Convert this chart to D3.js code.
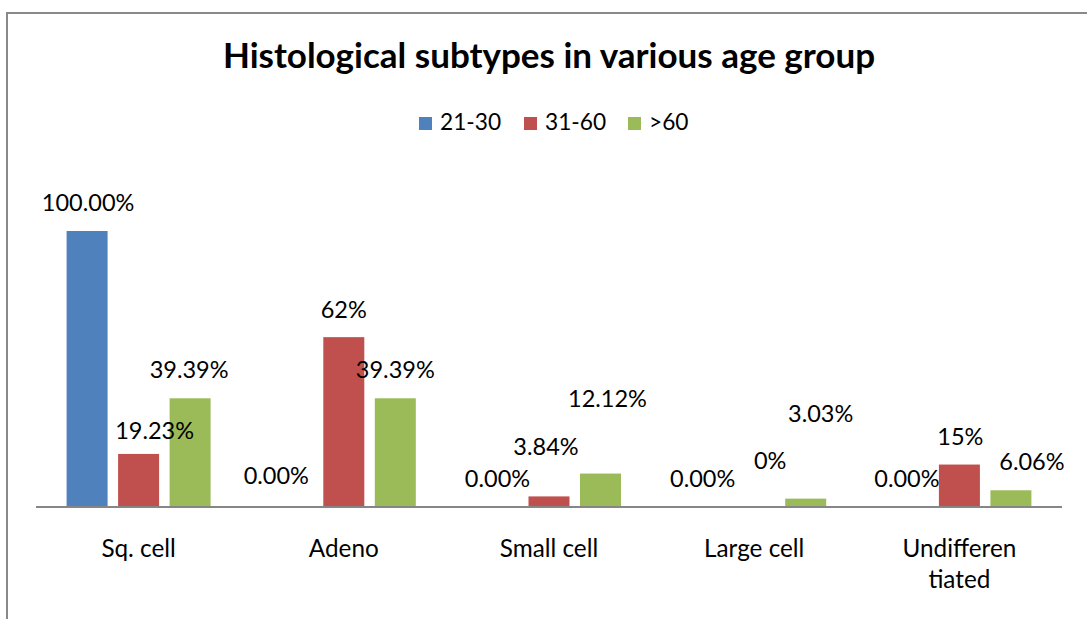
<!DOCTYPE html>
<html>
<head>
<meta charset="utf-8">
<script src="https://cdn.jsdelivr.net/npm/d3@7"></script>
<style>
  body { margin: 0; background: #fff; }
  text { font-family: Lato, "Open Sans", sans-serif; fill: #000; }
</style>
</head>
<body>
<svg id="chart" width="1087" height="619"></svg>
<script>
// data
const categories = ["Sq. cell", "Adeno", "Small cell", "Large cell", "Undifferen tiated"];
const seriesNames = ["21-30", "31-60", ">60"];
const age21_30 = [100, 0, 0, 0, 0];
const age31_60 = [19.23, 61.54, 3.84, 0, 15.38];
const age60plus = [39.39, 39.39, 12.12, 3.03, 6.06];
const labels21_30 = ["100.00%", "0.00%", "0.00%", "0.00%", "0.00%"];
const labels31_60 = ["19.23%", "62%", "3.84%", "0%", "15%"];
const labels60plus = ["39.39%", "39.39%", "12.12%", "3.03%", "6.06%"];

// manual label nudges (as in the original sheet): [dx, dy]
const nudge21_30 = [[1, 0], [-16, -3], [0, 0], [0, 0], [-1, 0]];
const nudge31_60 = [[16, 5], [0, 1], [-3, -21], [16, -18], [1, 0]];
const nudge60plus = [[-1, 0], [0, 0], [7, -47], [15, -57], [21, 0]];

const colors = ["#4F81BD", "#C0504D", "#9BBB59"];

const svg = d3.select("#chart");
const W = +svg.attr("width"), H = +svg.attr("height");

// outer chart border (runs off the picture on the right and bottom)
svg.append("rect")
    .attr("x", 7).attr("y", 13)
    .attr("width", W + 20).attr("height", H + 20)
    .attr("fill", "none")
    .attr("stroke", "#898989")
    .attr("stroke-width", 2);

svg.append("text")
    .attr("x", 549).attr("y", 68)
    .attr("text-anchor", "middle")
    .style("font-size", "35px")
    .style("font-weight", "bold")
    .text("Histological subtypes in various age group");

// legend
const legendX = [419, 524, 628];
const legend = svg.append("g");
seriesNames.forEach((name, i) => {
    legend.append("rect")
        .attr("x", legendX[i]).attr("y", 117)
        .attr("width", 13).attr("height", 13)
        .attr("fill", colors[i]);
    legend.append("text")
        .attr("x", legendX[i] + 21).attr("y", 130)
        .style("font-size", "22.7px")
        .text(name);
});

const baseline = 507;
const x0 = d3.scaleBand().domain(categories).range([36, 1062]).padding(0);
const x1 = d3.scaleBand().domain(seriesNames).range([0, x0.bandwidth()])
    .paddingInner(0.204).paddingOuter(0.594);
const y = d3.scaleLinear().domain([0, 120]).range([baseline, baseline - 276 * 1.2]);

const series = [
    { name: "21-30", values: age21_30, labels: labels21_30, nudge: nudge21_30 },
    { name: "31-60", values: age31_60, labels: labels31_60, nudge: nudge31_60 },
    { name: ">60", values: age60plus, labels: labels60plus, nudge: nudge60plus }
];

const rows = [];
series.forEach((s, si) => {
    categories.forEach((c, ci) => {
        rows.push({ cat: c, series: s.name, si: si, value: s.values[ci], label: s.labels[ci], nudge: s.nudge[ci] });
    });
});

const plot = svg.append("g");

plot.selectAll(".bar")
    .data(rows.filter(d => d.value > 0))
    .enter()
    .append("rect")
    .attr("class", "bar")
    .attr("x", d => x0(d.cat) + x1(d.series))
    .attr("y", d => y(d.value))
    .attr("width", x1.bandwidth())
    .attr("height", d => y(0) - y(d.value))
    .attr("fill", d => colors[d.si]);

// baseline axis
plot.append("line")
    .attr("x1", 36).attr("x2", 1062)
    .attr("y1", baseline).attr("y2", baseline)
    .attr("stroke", "#868686")
    .attr("stroke-width", 2);

plot.selectAll(".lbl")
    .data(rows)
    .enter()
    .append("text")
    .attr("class", "lbl")
    .attr("x", d => x0(d.cat) + x1(d.series) + x1.bandwidth() / 2 + d.nudge[0])
    .attr("y", d => y(d.value) - 20 + d.nudge[1])
    .attr("text-anchor", "middle")
    .style("font-size", "23.5px")
    .text(d => d.label);

// category labels, Excel wraps the long one
const catLabels = plot.selectAll(".cat")
    .data(categories)
    .enter()
    .append("text")
    .attr("class", "cat")
    .attr("x", d => x0(d) + x0.bandwidth() / 2)
    .attr("y", 557)
    .attr("text-anchor", "middle")
    .style("font-size", "24.3px");
catLabels.each(function(d) {
    const parts = d.split(" ");
    const t = d3.select(this);
    if (d.startsWith("Undifferen")) {
        parts.forEach((p, i) => {
            t.append("tspan")
                .attr("x", x0(d) + x0.bandwidth() / 2)
                .attr("dy", i === 0 ? 0 : 31)
                .text(p);
        });
    } else {
        t.text(d);
    }
});
</script>
</body>
</html>
